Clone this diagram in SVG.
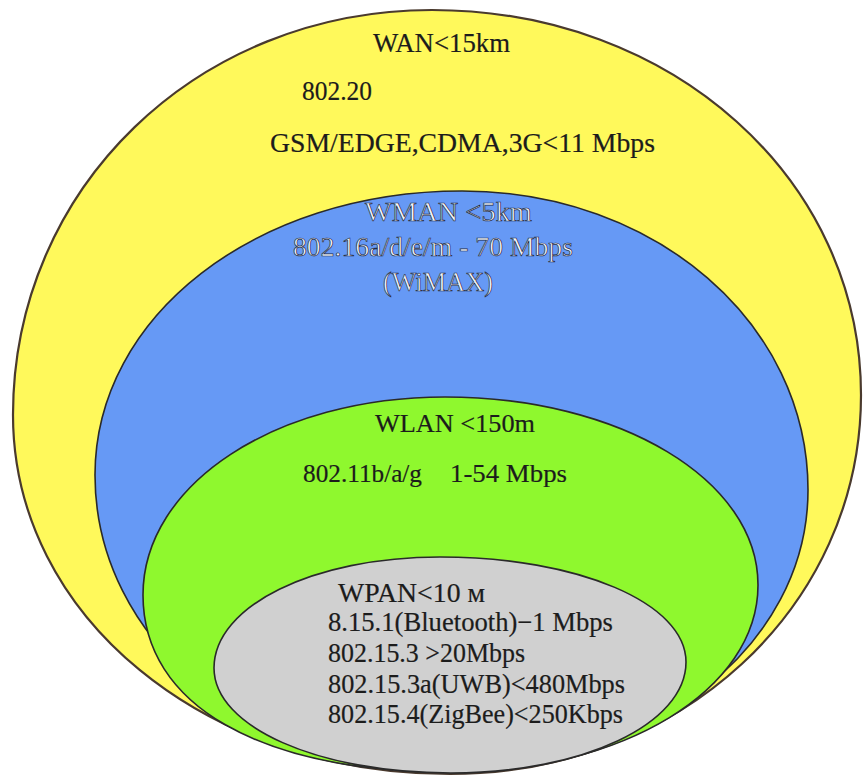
<svg xmlns="http://www.w3.org/2000/svg" width="863" height="776" viewBox="0 0 863 776">
  <style>
    .zone { stroke: #2a2a2a; stroke-width: 1.6; }
    .outer { stroke: #4a3a2e; stroke-width: 2.2; }
    .t { font-family: "Liberation Serif", "Times New Roman", serif; font-size: 27px; fill: #1c1c1c; stroke: #1c1c1c; stroke-width: 0.2px; }
    .g { font-size: 26px; }
    .emb { font-family: "Liberation Serif", "Times New Roman", serif; font-size: 27px; fill: #f4f6fa; stroke: #1e2b45; stroke-width: 0.7px; }
  </style>
  <rect x="0" y="0" width="863" height="776" fill="#ffffff"/>

  <g id="wan">
    <path class="zone outer" fill="#FFF95B" d="M13,415 C13,188 197,10 432,10 C672,10 861,179 861,395 C861,607 680,774 450,774 C205,774 13,616 13,415 Z"/>
    <text class="t" x="373" y="52" textLength="137" lengthAdjust="spacingAndGlyphs">WAN&lt;15km</text>
    <text class="t" x="302" y="100" textLength="70" lengthAdjust="spacingAndGlyphs">802.20</text>
    <text class="t" x="270" y="152" textLength="385" lengthAdjust="spacingAndGlyphs">GSM/EDGE,CDMA,3G&lt;11 Mbps</text>
  </g>

  <g id="wman">
    <path class="zone" fill="#6699F5" d="M95,475 C95,316 256,191 462,191 C655,191 808,323 808,490 C808,647 650,770 450,770 C251,770 95,640 95,475 Z"/>
    <text class="emb" x="365" y="221" textLength="167" lengthAdjust="spacingAndGlyphs">WMAN &lt;5km</text>
    <text class="emb" x="293" y="256" textLength="280" lengthAdjust="spacingAndGlyphs">802.16a/d/e/m - 70 Mbps</text>
    <text class="emb" x="383" y="291" textLength="110" lengthAdjust="spacingAndGlyphs">(WiMAX)</text>
  </g>

  <g id="wlan">
    <path class="zone" fill="#8FF82E" d="M143,595 C143,484 276,397 445,397 C620,397 758,480 758,585 C758,690 623,772 451,772 C260,772 143,705 143,595 Z"/>
    <text class="t g" x="375" y="432" textLength="160" lengthAdjust="spacingAndGlyphs">WLAN &lt;150m</text>
    <text class="t g" x="303" y="482" textLength="119" lengthAdjust="spacingAndGlyphs">802.11b/a/g</text>
    <text class="t g" x="450" y="482" textLength="117" lengthAdjust="spacingAndGlyphs">1-54 Mbps</text>
  </g>

  <g id="wpan">
    <path class="zone" fill="#D0D0D0" d="M214,668 C214,606 313,557 440,557 C578,557 686,603 686,662 C686,724 583,773 451,773 C318,773 214,727 214,668 Z"/>
    <text class="t" x="338" y="602" textLength="147" lengthAdjust="spacingAndGlyphs">WPAN&lt;10 м</text>
    <text class="t" x="328" y="631" textLength="285" lengthAdjust="spacingAndGlyphs">8.15.1(Bluetooth)−1 Mbps</text>
    <text class="t" x="328" y="662" textLength="197" lengthAdjust="spacingAndGlyphs">802.15.3 &gt;20Mbps</text>
    <text class="t" x="328" y="693" textLength="297" lengthAdjust="spacingAndGlyphs">802.15.3a(UWB)&lt;480Mbps</text>
    <text class="t" x="328" y="723" textLength="295" lengthAdjust="spacingAndGlyphs">802.15.4(ZigBee)&lt;250Kbps</text>
  </g>
</svg>
